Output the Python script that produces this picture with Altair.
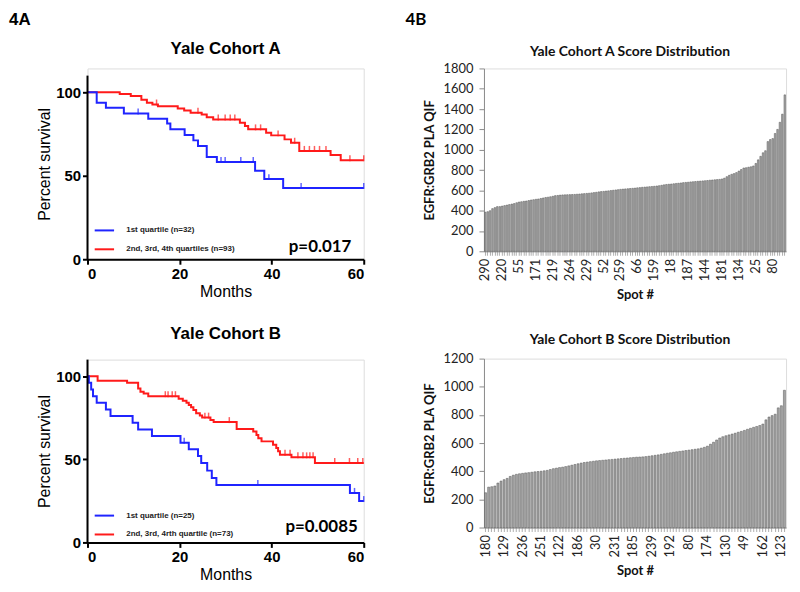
import altair as alt
import pandas as pd

BLUE = "#1f24ff"
RED = "#ff1a1a"

# ---------------- Yale Cohort A : Kaplan-Meier steps ----------------
a_blue_t = [0, 2.0, 4.0, 7.9, 13.2, 17.3, 18.0, 21.1, 23.0, 24.0, 25.9, 28.1, 36.4, 38.4, 42.5]
a_blue_s = [100, 93.7, 90.7, 87.3, 84.1, 81.3, 77.8, 74.4, 71.2, 67.9, 61.3, 58.3, 53.0, 48.0, 42.7]
a_blue_cens = [11.0, 29.0, 29.9, 33.3, 36.0, 39.4, 46.4, 60]
a_red_t = [0, 7.0, 9.4, 11.7, 12.9, 14.1, 15.3, 19.6, 21.0, 22.4, 24.8, 25.9, 27.3, 33.1, 34.2,
           34.9, 38.8, 39.9, 42.8, 44.2, 46.0, 52.8, 55.0]
a_red_s = [100, 99.0, 97.8, 95.6, 93.7, 92.7, 91.7, 90.3, 89.1, 87.7, 86.7, 85.1, 83.7, 81.7, 79.8,
           77.8, 75.8, 74.2, 71.8, 69.8, 64.9, 62.5, 59.3]
a_red_cens = [15.0, 24.0, 28.4, 29.9, 31.0, 32.0, 36.5, 37.6, 41.4, 45.0, 47.1, 48.2, 49.3, 50.4,
              51.8, 57.0, 60]
a_labels = ["1st quartile (n=32)", "2nd, 3rd, 4th quartiles (n=93)"]
a_p = ["p=0.017", 57.3, 4.2]

# ---------------- Yale Cohort B : Kaplan-Meier steps ----------------
b_blue_t = [0, 0.3, 0.8, 1.2, 2.0, 4.0, 5.0, 9.8, 11.0, 14.0, 20.2, 22.0, 24.0, 24.7, 26.0, 27.0,
            28.0, 57.0, 59.0]
b_blue_s = [100, 96, 92, 88, 84, 80, 76, 72, 68, 64, 60, 56, 52, 47.8, 43.2, 38.8, 34.5, 29.8, 24.9]
b_blue_cens = [21.0, 37.0, 58.0, 60]
b_red_t = [0, 2.2, 8.6, 11.0, 11.5, 12.2, 13.2, 19.8, 20.7, 21.5, 22.0, 22.5, 23.0, 23.6, 24.4,
           24.9, 26.7, 27.4, 32.4, 36.0, 36.7, 37.1, 37.8, 40.3, 41.0, 41.4, 41.8, 44.3, 49.4]
b_red_s = [100, 97.3, 96.0, 92.6, 90.6, 89.6, 88.0, 86.5, 85.3, 84.0, 82.7, 81.3, 79.7, 77.7, 76.3,
           75.1, 73.7, 72.4, 68.3, 66.7, 64.7, 62.7, 60.8, 58.8, 56.8, 54.8, 52.8, 51.2, 47.8]
b_red_cens = [16.9, 17.5, 18.4, 19.1, 25.5, 26.3, 30.8, 42.9, 44.0, 45.7, 46.8, 47.6, 48.3, 49.0,
              53.7, 56.9, 58.7, 59.8]
b_labels = ["1st quartile (n=25)", "2nd, 3rd, 4rth quartile (n=73)"]
b_p = ["p=0.0085", 58.7, 6.0]

# ---------------- Score distributions ----------------
a_scores = [385, 390, 400, 420, 430,
            440, 440, 445, 450, 455, 460, 465, 470, 478,
            485, 488, 492, 495, 500, 505, 508,
            512, 515, 520, 525, 530, 533, 537, 542,
            548, 550, 553, 555, 556, 557, 558, 559, 560,
            562, 564, 566, 568, 570, 572, 575, 578, 581, 585,
            588, 590, 593, 595, 598, 601, 604, 607,
            610, 612, 614, 616, 618, 620, 622, 625, 627, 630,
            632, 634, 636, 638, 640, 643, 646, 650, 654,
            658, 660, 662, 665, 668, 670, 673,
            676, 678, 680, 683, 685, 687, 689,
            691, 693, 695, 697, 700, 702, 704, 706,
            708, 712, 720, 735, 748, 758, 765,
            775, 790, 805, 820, 823, 828, 832,
            840, 865, 900, 935, 970,
            990, 1080, 1100, 1110, 1160, 1200, 1270, 1350, 1540]
a_spot_labels = ["290", "220", "55", "171", "219", "264", "229", "52", "259", "66", "159", "18",
                 "187", "144", "181", "134", "25", "80"]
a_label_step = 7

b_scores = [247, 287, 290, 295, 316, 330, 340, 349, 363, 372,
            378, 382, 385, 388, 390, 393, 396, 398, 400, 403,
            406, 412, 418, 422, 426, 429, 433, 438, 443, 448,
            453, 458, 462, 465, 468, 471, 474, 476, 478, 480,
            482, 484, 486, 488, 490, 492, 494, 496, 498, 500,
            501, 502, 504, 507, 510, 513, 516, 520, 524, 528,
            531, 535, 538, 541, 544, 547, 550, 553, 556, 559,
            564, 570, 578, 592, 606, 622, 636, 645, 652, 658,
            664, 670, 677, 683, 690, 698, 705, 712, 718, 725,
            735, 765, 785, 795, 805, 850, 865, 975]
b_spot_labels = ["180", "129", "236", "251", "122", "186", "30", "231", "185", "239", "192", "80",
                 "174", "130", "49", "162", "123"]
b_label_step = 6

panel_tags = ["4A", "4B"]
km_titles = ["Yale Cohort A", "Yale Cohort B"]
bar_titles = ["Yale Cohort A Score Distribution", "Yale Cohort B Score Distribution"]

KM_FONT = "Liberation Sans"
BAR_FONT = "Lato"


def step_df(ts, ss, group, end=60):
    return pd.DataFrame({"t": ts + [end], "s": ss + [ss[-1]], "g": group})


def censor_df(ts, ss, cens):
    ys = []
    for c in cens:
        v = ss[0]
        for t, s in zip(ts, ss):
            if t <= c:
                v = s
        ys.append(v)
    return pd.DataFrame({"t": cens, "s": ys})


def text_layer(txt, font, size, px, py, align="left", color="black"):
    return alt.Chart(pd.DataFrame({"txt": [txt]})).mark_text(
        align=align, baseline="alphabetic", font=font, fontSize=size, fontWeight="bold",
        color=color).encode(x=alt.value(px), y=alt.value(py), text="txt:N")


def km_axis(values, title, title_pad, domain=True):
    return alt.Axis(values=values, title=title, grid=False, domain=domain, domainColor="black",
                    domainWidth=2, tickColor="black", tickWidth=2, tickSize=5, labelFont=KM_FONT,
                    labelFontSize=15, labelFontWeight="bold", labelColor="black", labelPadding=2,
                    titleFont=KM_FONT, titleFontSize=16, titleFontWeight="normal",
                    titleColor="black", titlePadding=title_pad)


def km_chart(title, bt, bs, bc, rt, rs, rc, labels, ptxt, height, ymax, title_y, legend_y,
             tag=None):
    width = 278
    cscale = alt.Scale(domain=labels, range=[BLUE, RED])
    x = alt.X("t:Q", scale=alt.Scale(domain=[0, 60], nice=False),
              axis=km_axis([0, 20, 40, 60], "Months", 2))
    y = alt.Y("s:Q", scale=alt.Scale(domain=[0, ymax], nice=False),
              axis=km_axis([0, 50, 100], "Percent survival", 3, domain=False))
    leg = alt.Legend(title=None, orient="none", legendX=6, legendY=legend_y, symbolType="stroke",
                     symbolSize=380, symbolStrokeWidth=2, labelFont=KM_FONT, labelFontSize=8,
                     labelFontWeight="bold", labelColor="#222", rowPadding=4, labelOffset=11)
    color = alt.Color("g:N", scale=cscale, legend=leg)
    yaxis_line = alt.Chart(pd.DataFrame({"k": [0]})).mark_rule(
        color="black", strokeWidth=2).encode(x=alt.datum(0), y=alt.datum(0), y2=alt.datum(110))
    red_line = alt.Chart(step_df(rt, rs, labels[1])).mark_line(
        interpolate="step-after", strokeWidth=2).encode(x=x, y=y, color=color)
    blue_line = alt.Chart(step_df(bt, bs, labels[0])).mark_line(
        interpolate="step-after", strokeWidth=2).encode(x=x, y=y, color=color)
    red_c = alt.Chart(censor_df(rt, rs, rc)).mark_tick(
        orient="vertical", size=6, thickness=1.5, yOffset=-2, color=RED).encode(x=x, y=y)
    blue_c = alt.Chart(censor_df(bt, bs, bc)).mark_tick(
        orient="vertical", size=6, thickness=1.5, yOffset=-2, color=BLUE).encode(x=x, y=y)
    pdf = pd.DataFrame({"txt": [ptxt[0]], "t": [ptxt[1]], "s": [ptxt[2]]})
    ptext = alt.Chart(pdf).mark_text(align="right", baseline="alphabetic", font=BAR_FONT,
                                     fontSize=17, fontWeight="bold", color="black").encode(
        x=alt.X("t:Q"), y=alt.Y("s:Q"), text="txt:N")
    layers = [red_line, red_c, blue_line, blue_c, ptext, yaxis_line,
              text_layer(title, KM_FONT, 17, width / 2, title_y, align="center")]
    if tag:
        layers.append(text_layer(tag, KM_FONT, 17, -79, -44))
    return alt.layer(*layers).properties(width=width, height=height)


def bar_chart(title, scores, spot_labels, step, ymax, height, title_y, tag=None):
    width = 304
    df = pd.DataFrame({"i": list(range(len(scores))), "v": scores})
    arr = "[" + ",".join("'%s'" % s for s in spot_labels) + "]"
    expr = "datum.value %% %d == 0 ? %s[datum.value / %d] : ''" % (step, arr, step)
    x = alt.X("i:O", scale=alt.Scale(paddingInner=0.35, paddingOuter=0.2),
              axis=alt.Axis(title="Spot #", labelExpr=expr, labelAngle=270, labelOverlap=False,
                            domainColor="#8a8a8a", tickColor="#777", tickSize=4, tickWidth=0.6,
                            labelFont=BAR_FONT, labelFontSize=13, labelColor="#222",
                            labelPadding=3, titleFont=BAR_FONT, titleFontSize=13,
                            titleFontWeight="bold", titleColor="#111", titlePadding=8))
    y = alt.Y("v:Q", scale=alt.Scale(domain=[0, ymax], nice=False),
              axis=alt.Axis(values=list(range(0, ymax + 1, 200)), format="d",
                            title="EGFR:GRB2 PLA QIF",
                            grid=False, domainColor="#8a8a8a", tickColor="#8a8a8a", tickSize=5,
                            labelFont=BAR_FONT, labelFontSize=13, labelColor="#222",
                            labelPadding=6, titleFont=BAR_FONT, titleFontSize=13,
                            titleFontWeight="bold", titleColor="#111", titlePadding=7))
    bars = alt.Chart(df).mark_bar(color="#a6a6a6", stroke="#555555", strokeWidth=0.5).encode(
        x=x, y=y)
    layers = [bars, text_layer(title, BAR_FONT, 14, width / 2 - 5, title_y, align="center",
                               color="#111")]
    if tag:
        layers.append(text_layer(tag, BAR_FONT, 17, -79, -44))
    return alt.layer(*layers).properties(width=width, height=height)


kmA = km_chart(km_titles[0], a_blue_t, a_blue_s, a_blue_cens, a_red_t, a_red_s, a_red_cens,
               a_labels, a_p, height=192, ymax=192 / 1.68, title_y=-15, legend_y=152,
               tag=panel_tags[0])
kmB = km_chart(km_titles[1], b_blue_t, b_blue_s, b_blue_cens, b_red_t, b_red_s, b_red_cens,
               b_labels, b_p, height=184, ymax=110, title_y=-21, legend_y=146)
barA = bar_chart(bar_titles[0], a_scores, a_spot_labels, a_label_step, 1800, 184, -13,
                 tag=panel_tags[1])
barB = bar_chart(bar_titles[1], b_scores, b_spot_labels, b_label_step, 1200, 170, -15)

colA = alt.vconcat(kmA, kmB, spacing=24).resolve_scale(color="independent").resolve_legend(
    color="independent")
colB = alt.vconcat(barA, barB, spacing=29)

chart = alt.hconcat(colA, colB, spacing=36).properties(
    padding={"left": 0, "top": 0, "right": 0, "bottom": 0}
).configure_view(stroke=None).configure(background="white")

chart.save("out.html", embed_options={"renderer": "svg", "actions": False})
